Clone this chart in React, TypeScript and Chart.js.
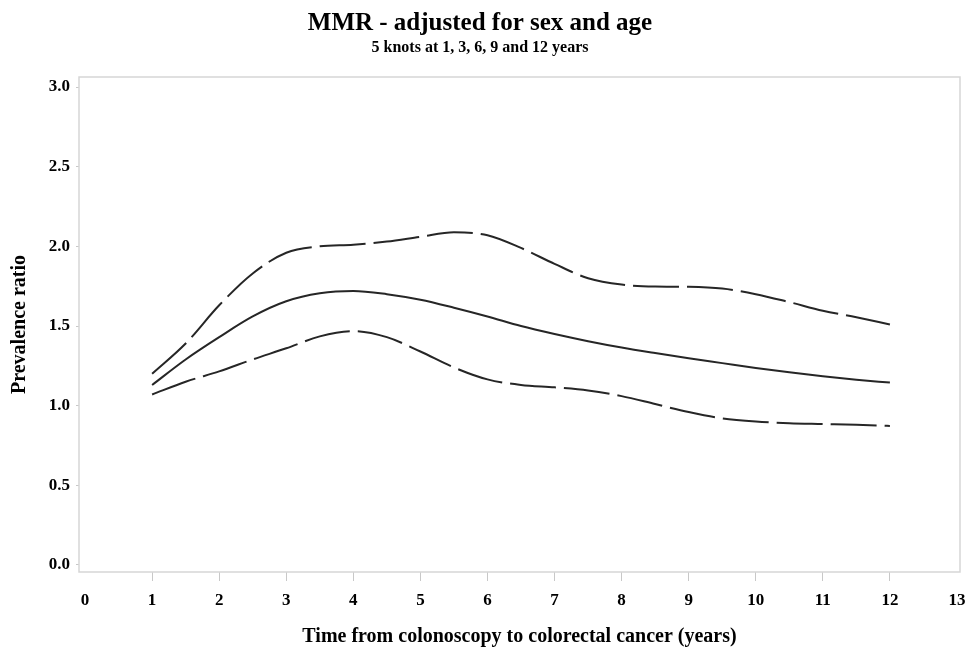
import React, { useEffect, useRef } from "react";
import { Chart, registerables } from "chart.js";

Chart.register(...registerables);

const titleText = "MMR - adjusted for sex and age";
const subtitleText = "5 knots at 1, 3, 6, 9 and 12 years";
const xAxisTitle = "Time from colonoscopy to colorectal cancer (years)";
const yAxisTitle = "Prevalence ratio";

const xTicks = [0, 1, 2, 3, 4, 5, 6, 7, 8, 9, 10, 11, 12, 13];
const yTicks = [0, 0.5, 1.0, 1.5, 2.0, 2.5, 3.0];

const years = [1, 1.5, 2, 2.5, 3, 3.5, 4, 4.5, 5, 5.5, 6, 6.5, 7, 7.5, 8, 8.5, 9, 9.5, 10, 10.5, 11, 11.5, 12];
const upperCI = [1.2, 1.39, 1.63, 1.83, 1.96, 2.0, 2.01, 2.03, 2.06, 2.088, 2.07, 1.99, 1.89, 1.8, 1.76, 1.748, 1.746, 1.735, 1.7, 1.65, 1.596, 1.555, 1.51];
const estimate = [1.13, 1.29, 1.43, 1.56, 1.655, 1.705, 1.72, 1.7, 1.665, 1.615, 1.56, 1.5, 1.45, 1.405, 1.365, 1.33, 1.297, 1.267, 1.237, 1.21, 1.185, 1.163, 1.145];
const lowerCI = [1.07, 1.15, 1.215, 1.29, 1.36, 1.435, 1.468, 1.43, 1.34, 1.24, 1.165, 1.13, 1.115, 1.095, 1.06, 1.01, 0.96, 0.92, 0.9, 0.89, 0.885, 0.88, 0.873];

const FONT = "'Liberation Serif', 'Times New Roman', Times, serif";

const boxPlugin = {
  id: "plotBox",
  afterDraw(chart: any) {
    const { ctx, chartArea } = chart;
    ctx.save();
    ctx.strokeStyle = "#d6d6d6";
    ctx.lineWidth = 1.5;
    ctx.strokeRect(chartArea.left, chartArea.top, chartArea.right - chartArea.left, chartArea.bottom - chartArea.top);
    ctx.restore();
  },
};

export default function App() {
  const canvasRef = useRef<HTMLCanvasElement | null>(null);

  useEffect(() => {
    if (!canvasRef.current) return;
    const toPts = (arr: number[]) => years.map((x, i) => ({ x, y: arr[i] }));
    const lineBase = {
      borderColor: "#262626",
      borderWidth: 2,
      pointRadius: 0,
      fill: false,
      cubicInterpolationMode: "monotone" as const,
    };
    const chart = new Chart(canvasRef.current, {
      type: "line",
      data: {
        datasets: [
          { ...lineBase, label: "Upper", data: toPts(upperCI), borderDash: [46, 8] },
          { ...lineBase, label: "Estimate", data: toPts(estimate) },
          { ...lineBase, label: "Lower", data: toPts(lowerCI), borderDash: [46, 8] },
        ],
      },
      options: {
        animation: false,
        responsive: true,
        maintainAspectRatio: false,
        layout: { padding: { left: 0, right: 11, top: 0, bottom: 0 } },
        plugins: {
          legend: { display: false },
          tooltip: { enabled: false },
          title: {
            display: true,
            text: titleText,
            color: "#000",
            font: { family: FONT, size: 25, weight: "bold", lineHeight: 1 },
            padding: { top: 11, bottom: 0 },
          },
          subtitle: {
            display: true,
            text: subtitleText,
            color: "#000",
            font: { family: FONT, size: 16, weight: "bold", lineHeight: 1 },
            padding: { top: 4, bottom: 21 },
          },
        },
        scales: {
          x: {
            type: "linear",
            min: -0.09,
            max: 13.045,
            afterBuildTicks: (scale: any) => {
              scale.ticks = xTicks.map((v) => ({ value: v }));
            },
            afterFit: (scale: any) => {
              scale.height = 84;
              scale.paddingLeft = 0;
              scale.paddingRight = 0;
            },
            grid: {
              drawOnChartArea: false,
              drawTicks: true,
              tickLength: 9,
              lineWidth: 1,
              color: (ctx: any) => {
                const v = ctx.tick ? ctx.tick.value : null;
                return v === 0 || v === 13 ? "rgba(0,0,0,0)" : "#c8c8c8";
              },
            },
            border: { display: false },
            ticks: {
              color: "#000",
              font: { family: FONT, size: 17, weight: "bold" },
              padding: 9,
              maxRotation: 0,
              autoSkip: false,
              callback: (v: any) => String(v),
            },
            title: {
              display: true,
              text: xAxisTitle,
              color: "#000",
              font: { family: FONT, size: 20, weight: "bold", lineHeight: 1.2 },
              padding: { top: 0, bottom: 7 },
            },
          },
          y: {
            type: "linear",
            min: -0.044,
            max: 3.063,
            afterBuildTicks: (scale: any) => {
              scale.ticks = yTicks.map((v) => ({ value: v }));
            },
            afterFit: (scale: any) => {
              scale.width = 79;
              scale.paddingTop = 0;
              scale.paddingBottom = 0;
            },
            grid: { drawOnChartArea: false, drawTicks: true, tickLength: 3, color: "#c8c8c8", lineWidth: 1 },
            border: { display: false },
            ticks: {
              color: "#000",
              font: { family: FONT, size: 17, weight: "bold" },
              padding: 6,
              autoSkip: false,
              callback: (v: any) => Number(v).toFixed(1),
            },
            title: {
              display: true,
              text: yAxisTitle,
              color: "#000",
              font: { family: FONT, size: 20, weight: "bold", lineHeight: 1.2 },
              padding: { top: 8, bottom: 0 },
            },
          },
        },
      },
      plugins: [boxPlugin],
    });
    return () => chart.destroy();
  }, []);

  return (
    <div style={{ position: "fixed", left: 0, top: 0, width: 971, height: 656, background: "#fff" }}>
      <canvas ref={canvasRef} />
    </div>
  );
}
